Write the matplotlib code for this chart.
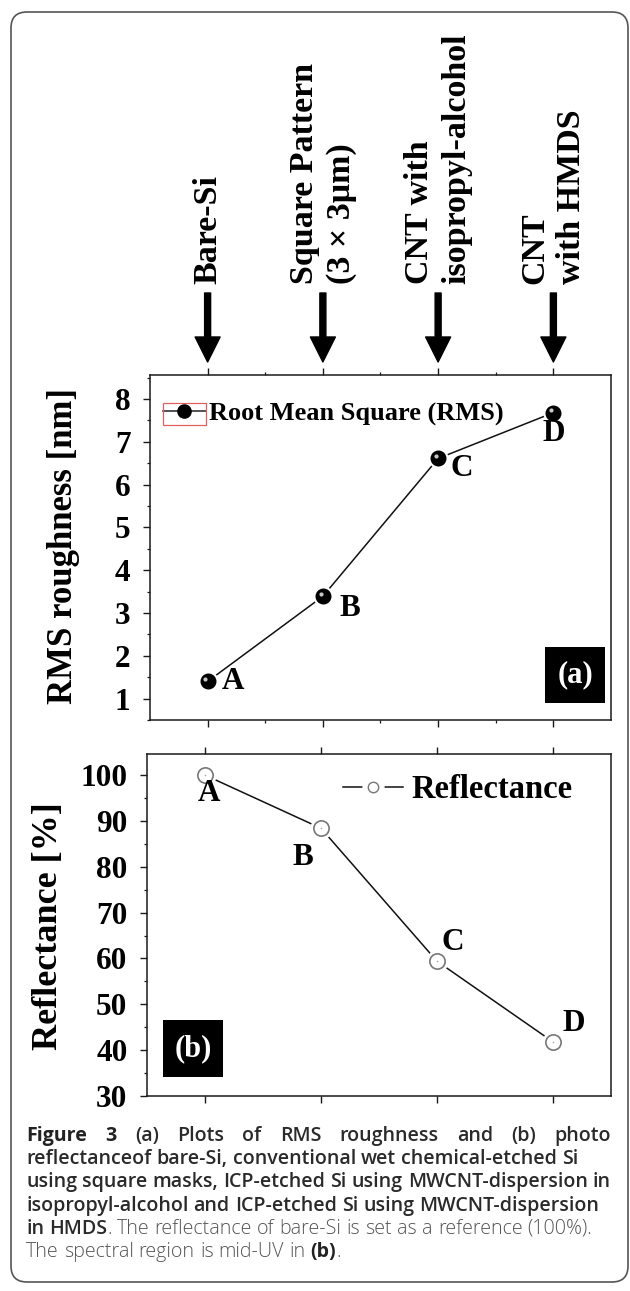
import matplotlib
matplotlib.use("Agg")
import matplotlib.pyplot as plt
import matplotlib.transforms as mtransforms
from matplotlib.lines import Line2D
from matplotlib.patches import Rectangle, FancyBboxPatch
from matplotlib.legend_handler import HandlerTuple
from matplotlib.ticker import MultipleLocator, FixedLocator

W, H = 630, 1291
SERIF = "Liberation Serif"
SANS = "Open Sans"

# data
samples = ["Bare-Si", "Square Pattern\n(3 \u00d7 3\u03bcm)",
           "CNT with\nisopropyl-alcohol", "CNT\nwith HMDS"]
point_labels = ["A", "B", "C", "D"]
rms_nm = [1.40, 3.39, 6.61, 7.68]
reflectance = [100.0, 88.4, 59.4, 41.8]
rms_ticks = [1, 2, 3, 4, 5, 6, 7, 8]
refl_ticks = [30, 40, 50, 60, 70, 80, 90, 100]

caption_lines = [
    [("Figure 3", "fig"), (" (a) Plots of RMS roughness and (b) photo", "title")],
    [("reflectanceof bare-Si, conventional wet chemical-etched Si", "title")],
    [("using square masks, ICP-etched Si using MWCNT-dispersion in", "title")],
    [("isopropyl-alcohol and ICP-etched Si using MWCNT-dispersion", "title")],
    [("in HMDS", "title"),
     (". The reflectance of bare-Si is set as a reference (100%).", "body")],
    [("The spectral region is mid-UV in ", "body"), ("(b)", "bold"), (".", "body")],
]

plt.rcParams["font.family"] = SERIF
plt.rcParams["font.weight"] = "bold"

fig = plt.figure(figsize=(W / 100, H / 100), dpi=100)
# pixel coordinates measured from the top left corner
px = mtransforms.Affine2D().scale(1 / 100, -1 / 100).translate(0, H / 100) \
    + fig.dpi_scale_trans


def axes_px(left, top, right, bottom):
    return fig.add_axes([left / W, 1 - bottom / H,
                         (right - left) / W, (bottom - top) / H])


ax_a = axes_px(150, 375, 611, 720)
ax_b = axes_px(147, 754, 611, 1096)
xs = list(range(1, len(samples) + 1))


def style_axes(ax, yticks, ylim, yminor, fs):
    for sp in ax.spines.values():
        sp.set_linewidth(1.1)
        sp.set_color("#1a1a1a")
    ax.set_xlim(0.5, 4.5)
    ax.set_xticks(xs)
    ax.set_xticklabels([])
    ax.set_ylim(*ylim)
    ax.set_yticks(yticks)
    ax.set_yticklabels([str(t) for t in yticks])
    ax.yaxis.set_minor_locator(MultipleLocator(yminor))
    ax.tick_params(axis="x", which="both", direction="out", top=True,
                   bottom=True, labelbottom=False, color="#1a1a1a")
    ax.tick_params(axis="y", which="both", direction="out", left=True,
                   right=False, color="#1a1a1a", labelsize=fs, pad=9)
    ax.tick_params(which="major", length=5, width=1.0)
    ax.tick_params(which="minor", length=2.5, width=0.9)


style_axes(ax_a, rms_ticks, (0.5, 8.56), 0.5, 22.5)
ax_a.xaxis.set_minor_locator(FixedLocator([1.5, 2.5, 3.5]))
style_axes(ax_b, refl_ticks, (30, 104.6), 5, 22.5)

# (a) RMS roughness, black spheres
ax_a.plot(xs, rms_nm, color="#111111", lw=1.1, zorder=2)
ax_a.plot(xs, rms_nm, ls="none", marker="o", ms=13.5, mfc="white",
          mec="white", zorder=3)
ax_a.plot(xs, rms_nm, ls="none", marker="o", ms=10.5, mfc="black",
          mec="black", zorder=4)
shine = mtransforms.offset_copy(ax_a.transData, fig=fig, x=-1.6, y=1.6,
                                units="points")
ax_a.plot(xs, rms_nm, ls="none", marker="o", ms=3, mfc="#c8c8c8",
          mec="none", transform=shine, zorder=5)

# (b) reflectance, open circles
ax_b.plot(xs, reflectance, color="#111111", lw=1.1, zorder=2)
ax_b.plot(xs, reflectance, ls="none", marker="o", ms=15, mfc="white",
          mec="white", zorder=3)
ax_b.plot(xs, reflectance, ls="none", marker="o", ms=11, mfc="white",
          mec="#777777", mew=1.2, zorder=4)
ax_b.plot(xs, reflectance, ls="none", marker="o", ms=1.2, mfc="#aaaaaa",
          mec="none", zorder=5)

# point letters
offs_a = [(25, 0), (27, -12), (24, -10), (0, -21)]
offs_b = [(4, -18), (-18, -29), (16, 19), (21, 18)]
for ax, vals, offs in ((ax_a, rms_nm, offs_a), (ax_b, reflectance, offs_b)):
    for x, v, lab, off in zip(xs, vals, point_labels, offs):
        ax.annotate(lab, (x, v), xytext=off, textcoords="offset pixels",
                    ha="center", va="center", fontsize=22.5, weight="bold",
                    zorder=6)

# legends
h_a = Line2D([], [], color="#222222", lw=1.1, marker="o", ms=9.5,
             mfc="black", mec="black")
ax_a.legend([h_a], ["Root Mean Square (RMS)"], loc="center left",
            bbox_to_anchor=(0.028, 0.887), frameon=False, borderpad=0,
            borderaxespad=0, handlelength=1.63, handletextpad=0.1,
            prop=dict(family=SERIF, weight="bold", size=19))
ax_a.add_patch(Rectangle((0.028, 0.855), 0.093, 0.064,
                         transform=ax_a.transAxes, fill=False,
                         ec="#e06060", lw=0.9, zorder=7))

gap = Line2D([], [], color="#111111", lw=1.1, marker="o", ms=15,
             mfc="white", mec="white")
circ = Line2D([], [], ls="none", marker="o", ms=7.5, mfc="white",
              mec="#777777", mew=1.0)
ax_b.legend([(gap, circ)], ["Reflectance"],
            handler_map={tuple: HandlerTuple(ndivide=1)},
            loc="center left", bbox_to_anchor=(0.422, 0.895), frameon=False,
            borderpad=0, borderaxespad=0, handlelength=1.84,
            handletextpad=0.25, prop=dict(family=SERIF, weight="bold",
                                          size=23.5))

# panel tags
for ax, tag, (x0, y0, w, h) in ((ax_a, "(a)", (0.857, 0.049, 0.130, 0.163)),
                                (ax_b, "(b)", (0.034, 0.056, 0.130, 0.166))):
    ax.add_patch(Rectangle((x0, y0), w, h, transform=ax.transAxes,
                           fc="black", ec="none", zorder=6))
    ax.text(x0 + w / 2, y0 + h / 2, tag, transform=ax.transAxes,
            color="white", fontsize=22, weight="bold", ha="center",
            va="center", zorder=7)

# sample names with arrows above panel (a)
top = ax_a.get_xaxis_transform()
for x, name in zip(xs, samples):
    ax_a.annotate("", xy=(x, 1.0377), xytext=(x, 1.2377), xycoords=top,
                  textcoords=top, annotation_clip=False,
                  arrowprops=dict(arrowstyle="simple,head_width=1.0,"
                                  "head_length=1.0,tail_width=0.24",
                                  mutation_scale=18, fc="black", ec="black",
                                  shrinkA=0, shrinkB=0))
    ax_a.text(x, 1.2638, name, transform=top, rotation=90, ha="center",
              va="bottom", multialignment="left", fontsize=24.5,
              weight="bold", linespacing=1.22, clip_on=False)

# axis titles
fig.text(64, 546, "RMS roughness [nm]", transform=px, rotation=90,
         ha="center", va="center", fontsize=25, weight="bold")
fig.text(49, 926, "Reflectance [%]", transform=px, rotation=90,
         ha="center", va="center", fontsize=26, weight="bold")

# outer rounded frame
fig.add_artist(FancyBboxPatch((11, 12), 617, 1270,
                              boxstyle="round,pad=0,rounding_size=16",
                              transform=px, fill=False, ec="#555555",
                              lw=1.2))

# caption
renderer = fig.canvas.get_renderer()
cap_styles = {
    "fig": dict(family=SANS, weight="bold", color="#222222"),
    "title": dict(family=SANS, weight="semibold", color="#2a2a2a"),
    "body": dict(family=SANS, weight="light", color="#555555"),
    "bold": dict(family=SANS, weight="bold", color="#222222"),
}


def width_of(s, size, style):
    t = fig.text(0, 0, s, fontsize=size, **cap_styles[style])
    w = t.get_window_extent(renderer).width
    t.remove()
    return w


def split_words(line):
    words = []
    for i, (seg, st) in enumerate(line):
        for j, p in enumerate(seg.split(" ")):
            if p == "":
                continue
            glue = (j == 0 and i > 0 and not seg.startswith(" ")
                    and not line[i - 1][0].endswith(" "))
            words.append((p, st, glue))
    return words


def natural_width(words, size):
    space = width_of("a a", size, "title") - width_of("aa", size, "title")
    total = sum(width_of(p, size, st) for p, st, _ in words)
    n_gaps = sum(1 for k, (_, _, g) in enumerate(words) if k > 0 and not g)
    return total, n_gaps, space


cap_left, cap_right = 26, 611
tot, ng, sp = natural_width(split_words(caption_lines[2]), 12)
cap_size = 12 * (cap_right - cap_left) / (tot + ng * sp)

baseline0, line_step = 1141, 23.2
for i, line in enumerate(caption_lines):
    words = split_words(line)
    tot, ng, sp = natural_width(words, cap_size)
    if i == 0:
        sp = (cap_right - cap_left - tot) / ng
    x = cap_left
    y = baseline0 + i * line_step
    for k, (p, st, glue) in enumerate(words):
        if k > 0 and not glue:
            x += sp
        fig.text(x, y, p, transform=px, fontsize=cap_size, ha="left",
                 va="baseline", **cap_styles[st])
        x += width_of(p, cap_size, st)

fig.savefig("out.png", dpi=100)
